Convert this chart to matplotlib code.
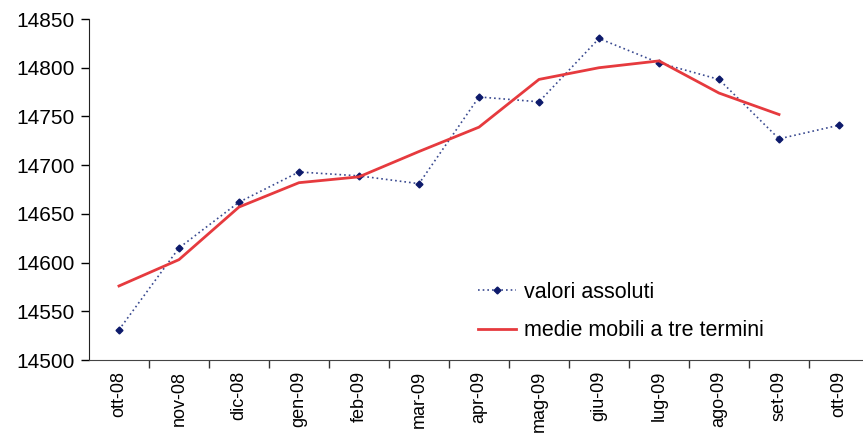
# Monthly values with their three-term moving average, Oct 2008 - Oct 2009
import numpy as np
import matplotlib.pyplot as plt

plt.rcParams['font.family'] = ['Liberation Sans', 'DejaVu Sans']

months = ['ott-08', 'nov-08', 'dic-08', 'gen-09', 'feb-09', 'mar-09', 'apr-09',
          'mag-09', 'giu-09', 'lug-09', 'ago-09', 'set-09', 'ott-09']
absolute_values = [14531, 14615, 14662, 14693, 14689, 14681, 14770,
                   14765, 14830, 14805, 14788, 14727, 14741]
moving_average = [14576, 14603, 14657, 14682, 14688, 14714, 14739,
                  14788, 14800, 14807, 14774, 14752, np.nan]

fig = plt.figure(figsize=(8.63, 4.34), dpi=100)
ax = fig.add_axes([0.1031, 0.1705, 0.8969, 0.7857])

x = np.arange(len(months))
ax.plot(x, absolute_values, color='#3a4a90', linestyle=(0, (1, 1.8)), linewidth=1.2,
        marker='D', markersize=3.5, markerfacecolor='#0d1a6b', markeredgecolor='#0d1a6b',
        label='valori assoluti')
ax.plot(x, moving_average, color='#e63a3e', linewidth=2, label='medie mobili a tre termini')

ax.set_xlim(-0.5, 12.4)
ax.set_ylim(14500, 14850)
ax.set_yticks(np.arange(14500, 14851, 50))

ax.set_xticks(x)
ax.set_xticklabels(months, rotation=90, fontsize=13)
ax.set_xticks(np.arange(0.5, 12.5, 1), minor=True)
ax.tick_params(axis='x', which='major', length=0, pad=8)
ax.tick_params(axis='x', which='minor', length=6, width=1, color='#333333')
ax.tick_params(axis='y', length=6, width=1, labelsize=15, pad=4)

for side in ('top', 'right'):
    ax.spines[side].set_visible(False)
ax.spines['left'].set_color('#222222')
ax.spines['bottom'].set_color('#444444')

ax.legend(loc='center left', bbox_to_anchor=(0.5026, 0.142), frameon=False,
          fontsize=15.5, numpoints=1, handlelength=1.75, handletextpad=0.4,
          labelspacing=0.8, borderpad=0, borderaxespad=0)

fig.savefig('out.png', dpi=100)
